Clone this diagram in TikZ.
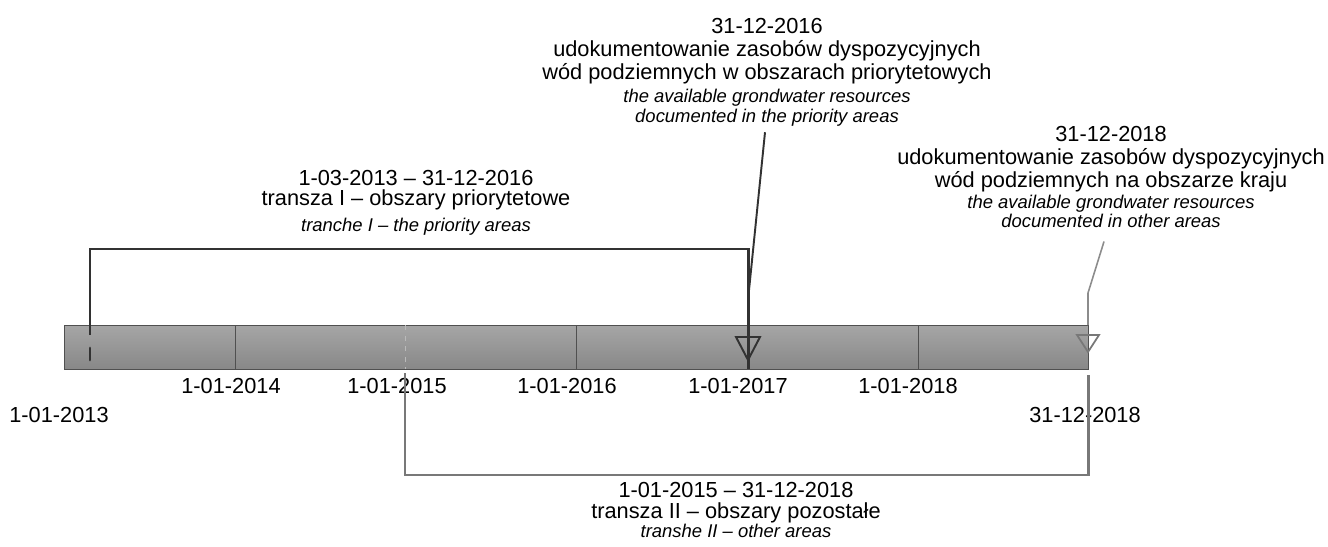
\documentclass[tikz,border=0pt]{standalone}
\usepackage{fontspec}
\setmainfont{Liberation Sans}
\usetikzlibrary{positioning}

\definecolor{barfill}{RGB}{136,136,136}
\definecolor{barline}{RGB}{80,80,80}
\definecolor{darkline}{RGB}{50,50,50}
\definecolor{greyline}{RGB}{120,120,120}
\definecolor{paleline}{RGB}{140,140,140}

\tikzset{
  date/.style={font=\fontsize{12.4}{13}\selectfont, inner sep=0pt, anchor=base},
  main/.style={font=\fontsize{12.4}{13}\selectfont, align=center, inner sep=0pt, anchor=north},
  note/.style={font=\fontsize{10.5}{11.3}\selectfont\itshape, align=center, inner sep=0pt, anchor=north},
  trancheone/.style={darkline, line width=1.7pt},
  tranchetwo/.style={greyline, line width=1.7pt},
  leader/.style={darkline, line width=1.1pt},
  paleleader/.style={paleline, line width=0.9pt}
}

\begin{document}
\begin{tikzpicture}[x=0.02cm,y=-0.02cm]
    \useasboundingbox (0,0) rectangle (1328,547);
    % time bar with year ticks
    \draw[barline, top color=barfill!75!white, bottom color=barfill] (64,325) rectangle (1088,369);
    \foreach \x in {235,576,918} {
      \draw[barline] (\x,325) -- (\x,369);
    }
    \draw[paleline!60!white, dashed, thin] (405,325) -- (405,369);
    % year labels
    \foreach \x/\yr in {231/2014, 397/2015, 567/2016, 738/2017, 908/2018} {
      \node[date] (y\yr) at (\x,393) {1-01-\yr};
    }
    \node[date] (start) at (59,422) {1-01-2013};
    \node[date] (finish) at (1085,422) {31-12-2018};
    % tranche I bracket
    \coordinate (iLow) at (90,335);
    \coordinate (iTop) at (90,249);
    \coordinate (iEnd) at (748,249);
    \coordinate (iBar) at (748,369);
    \draw[trancheone] (iLow) -- (iTop) -- (iEnd) -- (iBar);
    \draw[trancheone, line cap=round] (90,348) -- (90,360);
    \node[main, font=\fontsize{12.4}{11.6}\selectfont] (oneMain) at (416,170)
      {1-03-2013 – 31-12-2016\\transza I – obszary priorytetowe};
    \node[note] (oneNote) at (416,218) {tranche I – the priority areas};
    % tranche II bracket
    \coordinate (iiBar) at (405,373);
    \coordinate (iiLow) at (405,475);
    \coordinate (iiEnd) at (1088,475);
    \coordinate (iiTop) at (1088,375);
    \draw[tranchetwo] (iiBar) -- (iiLow) -- (iiEnd) -- (iiTop);
    \node[main, font=\fontsize{12.4}{11.8}\selectfont] (twoMain) at (736,482)
      {1-01-2015 – 31-12-2018\\transza II – obszary pozostałe};
    \node[note] (twoNote) at (736,524) {transhe II – other areas};
    % milestone 31-12-2016
    \node[main] (midMain) at (767,18)
      {31-12-2016\\udokumentowanie zasobów dyspozycyjnych\\wód podziemnych w obszarach priorytetowych};
    \node[note] (midNote) at (767,88.5)
      {the available grondwater resources\\documented in the priority areas};
    \coordinate (midKnee) at (748,300);
    \draw[leader] ([shift={(-2,6)}]midNote.south) -- (midKnee);
    \draw[leader] (iBar) ++(0,-9) -- ++(-12,-23) -- ++(24,0) -- cycle;
    % milestone 31-12-2018
    \node[main] (endMain) at (1111,126)
      {31-12-2018\\udokumentowanie zasobów dyspozycyjnych\\wód podziemnych na obszarze kraju};
    \node[note] (endNote) at (1111,194.4)
      {the available grondwater resources\\documented in other areas};
    \coordinate (endKnee) at (1088,293);
    \coordinate (endBar) at (1088,325);
    \draw[paleleader] ([shift={(-7,13)}]endNote.south) -- (endKnee) -- (endBar);
    \draw[greyline, line width=1pt] (endBar) ++(0,27) -- ++(-11,-17) -- ++(22,0) -- cycle;
\end{tikzpicture}
\end{document}
